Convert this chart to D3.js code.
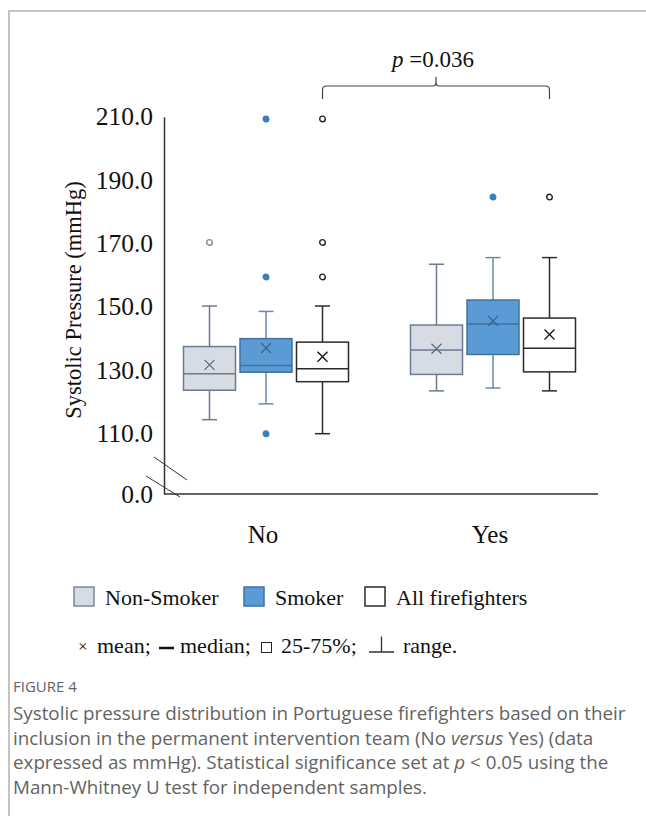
<!DOCTYPE html>
<html>
<head>
<meta charset="utf-8">
<script src="https://cdn.jsdelivr.net/npm/d3@7"></script>
<style>
  body { margin: 0; background: #fff; }
  svg text { font-family: 'Liberation Serif', 'Times New Roman', serif; fill: #111; }
  svg text.caption { font-family: 'Open Sans', sans-serif; fill: #636363; }
</style>
</head>
<body>
<svg width="646" height="816"></svg>
<script>
'use strict';

const groups = ['No', 'Yes'];
const series = ['Non-Smoker', 'Smoker', 'All firefighters'];

// one row per group, columns follow `series`
const lowVals = [[114.3, 119.3, 109.3], [123.4, 124.3, 123.4]];
const q1Vals = [[123.6, 129.3, 126.3], [128.6, 134.9, 129.4]];
const medianVals = [[128.8, 131.4, 130.4], [136.3, 144.5, 136.9]];
const q3Vals = [[137.4, 139.9, 138.8], [144.2, 152.1, 146.4]];
const highVals = [[150.2, 148.5, 150.2], [163.4, 165.5, 165.5]];
const meanVals = [[131.6, 136.9, 134.2], [136.7, 145.5, 141.2]];
const outlierVals = [
  [[170.3], [209.3, 159.4, 109.3], [209.3, 170.3, 159.4]],
  [[], [184.6], [184.6]]
];

const yTicks = [0, 110, 130, 150, 170, 190, 210];
const pLabel = '0.036';

const styles = {
  'Non-Smoker': { fill: '#d6dbe4', stroke: '#6d7b92', whisker: '#6d7b92', dot: '#fff', dotStroke: '#7b879b', mean: '#5f6c82' },
  'Smoker': { fill: '#5b9bd5', stroke: '#41719c', whisker: '#6a88ad', dot: '#3d7cc0', dotStroke: '#3d7cc0', mean: '#3c5f86' },
  'All firefighters': { fill: '#fff', stroke: '#2b2b2b', whisker: '#2b2b2b', dot: '#fff', dotStroke: '#222', mean: '#111' }
};

const rows = [];
groups.forEach((g, gi) => {
  series.forEach((s, si) => {
    rows.push({
      group: g, series: s,
      low: lowVals[gi][si], q1: q1Vals[gi][si], median: medianVals[gi][si],
      q3: q3Vals[gi][si], high: highVals[gi][si], mean: meanVals[gi][si],
      outliers: outlierVals[gi][si]
    });
  });
});

const svg = d3.select('svg');

// page frame (left and top rules)
svg.append('path')
  .attr('d', 'M9,816V11H646')
  .attr('fill', 'none')
  .attr('stroke', '#c4c4c4')
  .attr('stroke-width', 2);

// broken y axis: 0 sits right under 110
const y = d3.scaleLinear().domain([0, 110, 210]).range([494, 433.3, 116.7]);
const x = d3.scaleBand().domain(groups).range([152.5, 606.5]);
const xSub = d3.scalePoint().domain(series).range([-56.5, 56.5]);
const cx = d => x(d.group) + x.bandwidth() / 2 + xSub(d.series);

const boxW = 52;
const capW = 15;

const yAxis = svg.append('g')
  .attr('transform', 'translate(164,0)')
  .call(d3.axisLeft(y).tickValues(yTicks).tickFormat(d3.format('.1f')).tickSize(0).tickPadding(11));
yAxis.select('.domain').attr('stroke', '#333').attr('stroke-width', 1.5);
yAxis.selectAll('text')
  .attr('font-size', 25.5)
  .attr('font-family', "'Liberation Serif', serif")
  .attr('fill', '#111');

// x axis baseline
svg.append('line')
  .attr('x1', 164).attr('x2', 598)
  .attr('y1', y(0)).attr('y2', y(0))
  .attr('stroke', '#333').attr('stroke-width', 1.5);

// axis break slashes
svg.append('line').attr('x1', 154).attr('y1', 457).attr('x2', 187).attr('y2', 480)
  .attr('stroke', '#333').attr('stroke-width', 1);
svg.append('line').attr('x1', 146).attr('y1', 476).attr('x2', 180).attr('y2', 497)
  .attr('stroke', '#333').attr('stroke-width', 1);

// group labels
svg.selectAll('text.grp')
  .data(groups)
  .join('text')
  .attr('class', 'grp')
  .attr('x', d => x(d) + x.bandwidth() / 2 - 3)
  .attr('y', 543)
  .attr('text-anchor', 'middle')
  .attr('font-size', 25)
  .text(d => d);

svg.append('text')
  .attr('transform', 'translate(73,300) rotate(-90)')
  .attr('text-anchor', 'middle')
  .attr('dy', '0.35em')
  .attr('font-size', 22.5)
  .text('Systolic Pressure (mmHg)');

// boxes
const box = svg.selectAll('g.box')
  .data(rows)
  .join('g')
  .attr('class', 'box')
  .attr('transform', d => `translate(${cx(d)},0)`);

box.append('line')
  .attr('y1', d => y(d.high)).attr('y2', d => y(d.q3))
  .attr('stroke', d => styles[d.series].whisker).attr('stroke-width', 1.5);
box.append('line')
  .attr('y1', d => y(d.q1)).attr('y2', d => y(d.low))
  .attr('stroke', d => styles[d.series].whisker).attr('stroke-width', 1.5);
box.append('line')
  .attr('x1', -capW / 2).attr('x2', capW / 2)
  .attr('y1', d => y(d.high)).attr('y2', d => y(d.high))
  .attr('stroke', d => styles[d.series].whisker).attr('stroke-width', 1.5);
box.append('line')
  .attr('x1', -capW / 2).attr('x2', capW / 2)
  .attr('y1', d => y(d.low)).attr('y2', d => y(d.low))
  .attr('stroke', d => styles[d.series].whisker).attr('stroke-width', 1.5);

box.append('rect')
  .attr('x', -boxW / 2)
  .attr('width', boxW)
  .attr('y', d => y(d.q3))
  .attr('height', d => y(d.q1) - y(d.q3))
  .attr('fill', d => styles[d.series].fill)
  .attr('stroke', d => styles[d.series].stroke)
  .attr('stroke-width', 1.5);

box.append('line')
  .attr('x1', -boxW / 2).attr('x2', boxW / 2)
  .attr('y1', d => y(d.median)).attr('y2', d => y(d.median))
  .attr('stroke', d => styles[d.series].stroke).attr('stroke-width', 1.5);

// mean marker
box.append('path')
  .attr('d', d => {
    const m = y(d.mean);
    return `M-5,${m - 5}L5,${m + 5}M-5,${m + 5}L5,${m - 5}`;
  })
  .attr('stroke', d => styles[d.series].mean)
  .attr('stroke-width', 1.3)
  .attr('fill', 'none');

box.selectAll('circle')
  .data(d => d.outliers.map(v => ({ v, series: d.series })))
  .join('circle')
  .attr('cy', d => y(d.v))
  .attr('r', 2.8)
  .attr('fill', d => styles[d.series].dot)
  .attr('stroke', d => styles[d.series].dotStroke)
  .attr('stroke-width', 1.4);

// significance bracket between the two "All firefighters" boxes
const bx1 = x('No') + x.bandwidth() / 2 + xSub('All firefighters');
const bx2 = x('Yes') + x.bandwidth() / 2 + xSub('All firefighters');
const bm = (bx1 + bx2) / 2;
const by = 86;
svg.append('path')
  .attr('d', `M${bx1},99V${by + 4}Q${bx1},${by} ${bx1 + 4},${by}H${bm - 3}Q${bm},${by} ${bm},${by - 4}V77`
    + `M${bm},${by - 4}Q${bm},${by} ${bm + 3},${by}H${bx2 - 4}Q${bx2},${by} ${bx2},${by + 4}V99`)
  .attr('fill', 'none')
  .attr('stroke', '#444')
  .attr('stroke-width', 1.2);

const pText = svg.append('text')
  .attr('x', bm - 3)
  .attr('y', 67)
  .attr('text-anchor', 'middle')
  .attr('font-size', 23);
pText.append('tspan').attr('font-style', 'italic').text('p');
pText.append('tspan').text(' =' + pLabel);

// legend
const legendX = [74, 244, 365];
const leg = svg.selectAll('g.leg')
  .data(series)
  .join('g')
  .attr('class', 'leg')
  .attr('transform', (d, i) => `translate(${legendX[i]},587)`);
leg.append('rect')
  .attr('width', 20).attr('height', 19)
  .attr('fill', d => styles[d].fill)
  .attr('stroke', d => d === 'Non-Smoker' ? '#7b879b' : styles[d].stroke)
  .attr('stroke-width', 1.5);
leg.append('text')
  .attr('x', 31).attr('y', 18)
  .attr('font-size', 22)
  .text(d => d);

// key line
const key = svg.append('g');
key.append('text').attr('x', 78).attr('y', 652).attr('font-size', 17).text('×');
key.append('text').attr('x', 97).attr('y', 653).attr('font-size', 22).text('mean;');
key.append('line').attr('x1', 159).attr('x2', 174).attr('y1', 648).attr('y2', 648)
  .attr('stroke', '#111').attr('stroke-width', 2.5);
key.append('text').attr('x', 180).attr('y', 653).attr('font-size', 22).text('median;');
key.append('rect').attr('x', 261.5).attr('y', 642.5).attr('width', 10).attr('height', 10)
  .attr('fill', 'none').attr('stroke', '#222').attr('stroke-width', 1);
key.append('text').attr('x', 281).attr('y', 653).attr('font-size', 22).text('25-75%;');
key.append('path').attr('d', 'M381.5,636.5V652M369,652H394')
  .attr('fill', 'none').attr('stroke', '#333').attr('stroke-width', 1.3);
key.append('text').attr('x', 403).attr('y', 653).attr('font-size', 22).text('range.');

// caption
svg.append('text')
  .attr('class', 'caption')
  .attr('x', 13).attr('y', 692)
  .attr('font-size', 15)
  .attr('fill', '#7a7a7a')
  .text('FIGURE 4');

const captionLines = [
  [['Systolic pressure distribution in Portuguese firefighters based on their', false]],
  [['inclusion in the permanent intervention team (No ', false], ['versus', true], [' Yes) (data', false]],
  [['expressed as mmHg). Statistical significance set at ', false], ['p', true], [' < 0.05 using the', false]],
  [['Mann-Whitney U test for independent samples.', false]]
];
captionLines.forEach((parts, i) => {
  const t = svg.append('text')
    .attr('class', 'caption')
    .attr('x', 13)
    .attr('y', 720 + i * 24.5)
    .attr('font-size', 18.8);
  parts.forEach(([str, it]) => {
    t.append('tspan').attr('font-style', it ? 'italic' : null).text(str);
  });
});
</script>
</body>
</html>
